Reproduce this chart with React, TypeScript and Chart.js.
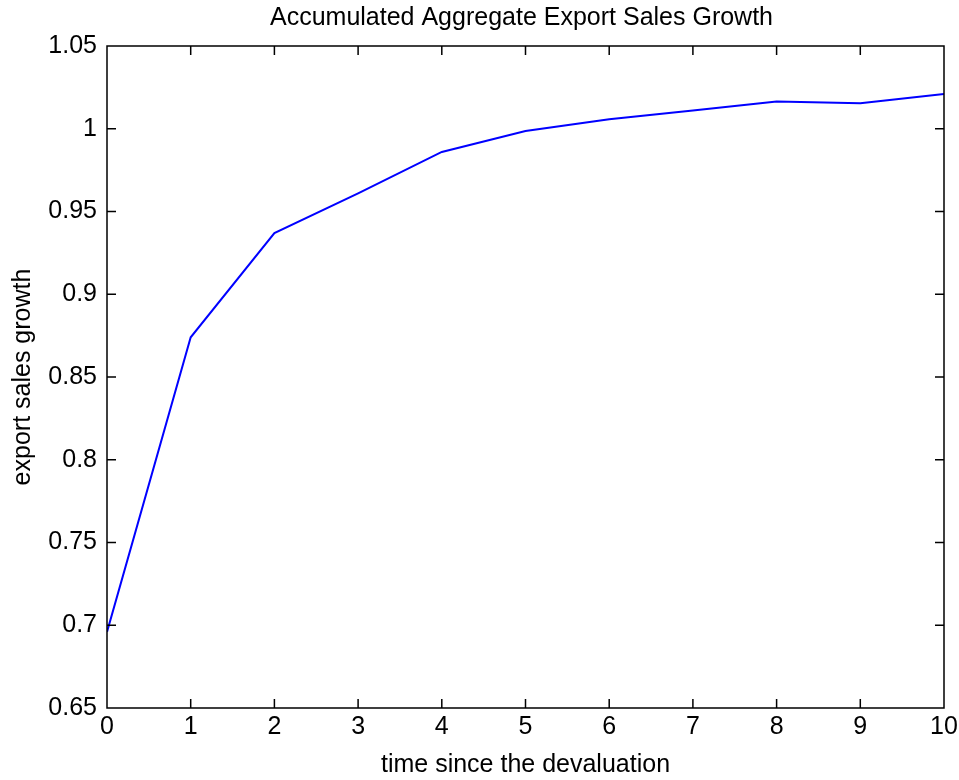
import React, { useEffect, useRef } from "react";
import { Chart, registerables } from "chart.js";

Chart.register(...registerables);

const TITLE = "Accumulated Aggregate Export Sales Growth";
const X_LABEL = "time since the devaluation";
const Y_LABEL = "export sales growth";
const timeSteps = [0, 1, 2, 3, 4, 5, 6, 7, 8, 9, 10];
const exportGrowth = [0.696, 0.874, 0.937, 0.961, 0.986, 0.9986, 1.0057, 1.011, 1.0164, 1.0154, 1.021];
const yMin = 0.65;
const yMax = 1.05;
const yStep = 0.05;
const xMin = 0;
const xMax = 10;

const FONT = "'Liberation Sans', Arial, Helvetica, sans-serif";

const boxPlugin = {
  id: "matlabBox",
  afterDraw(chart: any) {
    const { ctx, chartArea } = chart;
    const { left, right, top, bottom } = chartArea;
    const xs = chart.scales.x;
    const ys = chart.scales.y;
    const tl = 9;
    ctx.save();
    ctx.strokeStyle = "#000";
    ctx.lineWidth = 1.5;
    ctx.beginPath();
    ctx.rect(left, top, right - left, bottom - top);
    xs.ticks.forEach((t: any) => {
      const px = xs.getPixelForValue(t.value);
      ctx.moveTo(px, bottom);
      ctx.lineTo(px, bottom - tl);
      ctx.moveTo(px, top);
      ctx.lineTo(px, top + tl);
    });
    ys.ticks.forEach((t: any) => {
      const py = ys.getPixelForValue(t.value);
      ctx.moveTo(left, py);
      ctx.lineTo(left + tl, py);
      ctx.moveTo(right, py);
      ctx.lineTo(right - tl, py);
    });
    ctx.stroke();
    // title
    ctx.fillStyle = "#000";
    ctx.font = `25px ${FONT}`;
    ctx.textAlign = "center";
    ctx.textBaseline = "middle";
    ctx.fillText(TITLE, (left + right) / 2 - 4, 18);
    ctx.restore();
  },
};

export default function App() {
  const ref = useRef<HTMLCanvasElement | null>(null);
  useEffect(() => {
    if (!ref.current) return;
    const chart = new Chart(ref.current, {
      type: "line",
      data: {
        labels: timeSteps,
        datasets: [
          {
            data: timeSteps.map((t, i) => ({ x: t, y: exportGrowth[i] })),
            borderColor: "#0000ff",
            borderWidth: 2,
            pointRadius: 0,
            tension: 0,
            fill: false,
          },
        ],
      },
      options: {
        animation: false,
        responsive: false,
        maintainAspectRatio: false,
        layout: { padding: { top: 46, right: 15, left: 0, bottom: 0 } },
        plugins: { legend: { display: false }, tooltip: { enabled: false }, title: { display: false } },
        scales: {
          x: {
            type: "linear",
            min: xMin,
            max: xMax,
            grid: { display: false, drawTicks: false },
            border: { display: false },
            ticks: {
              stepSize: 1,
              color: "#000",
              padding: 4,
              font: { family: FONT, size: 25 },
              maxRotation: 0,
            },
            title: {
              display: true,
              text: X_LABEL,
              color: "#000",
              font: { family: FONT, size: 25 },
              padding: { top: 0, bottom: 0 },
            },
            afterFit(scale: any) {
              scale.height = 72;
              scale.paddingLeft = 0;
              scale.paddingRight = 0;
            },
          },
          y: {
            type: "linear",
            min: yMin,
            max: yMax,
            grid: { display: false, drawTicks: false },
            border: { display: false },
            ticks: {
              stepSize: yStep,
              color: "#000",
              padding: 10,
              font: { family: FONT, size: 25 },
              callback: (v: any) => String(Number(Number(v).toFixed(2))),
            },
            title: {
              display: true,
              text: Y_LABEL,
              color: "#000",
              font: { family: FONT, size: 25 },
              padding: { top: 8, bottom: 0 },
            },
            afterFit(scale: any) {
              scale.width = 107;
              scale.paddingTop = 0;
              scale.paddingBottom = 0;
            },
          },
        },
      },
      plugins: [boxPlugin],
    });
    return () => chart.destroy();
  }, []);
  return (
    <div style={{ position: "absolute", left: 0, top: 0, width: 959, height: 780, background: "#fff" }}>
      <canvas ref={ref} width={959} height={780} style={{ width: 959, height: 780 }} />
    </div>
  );
}
